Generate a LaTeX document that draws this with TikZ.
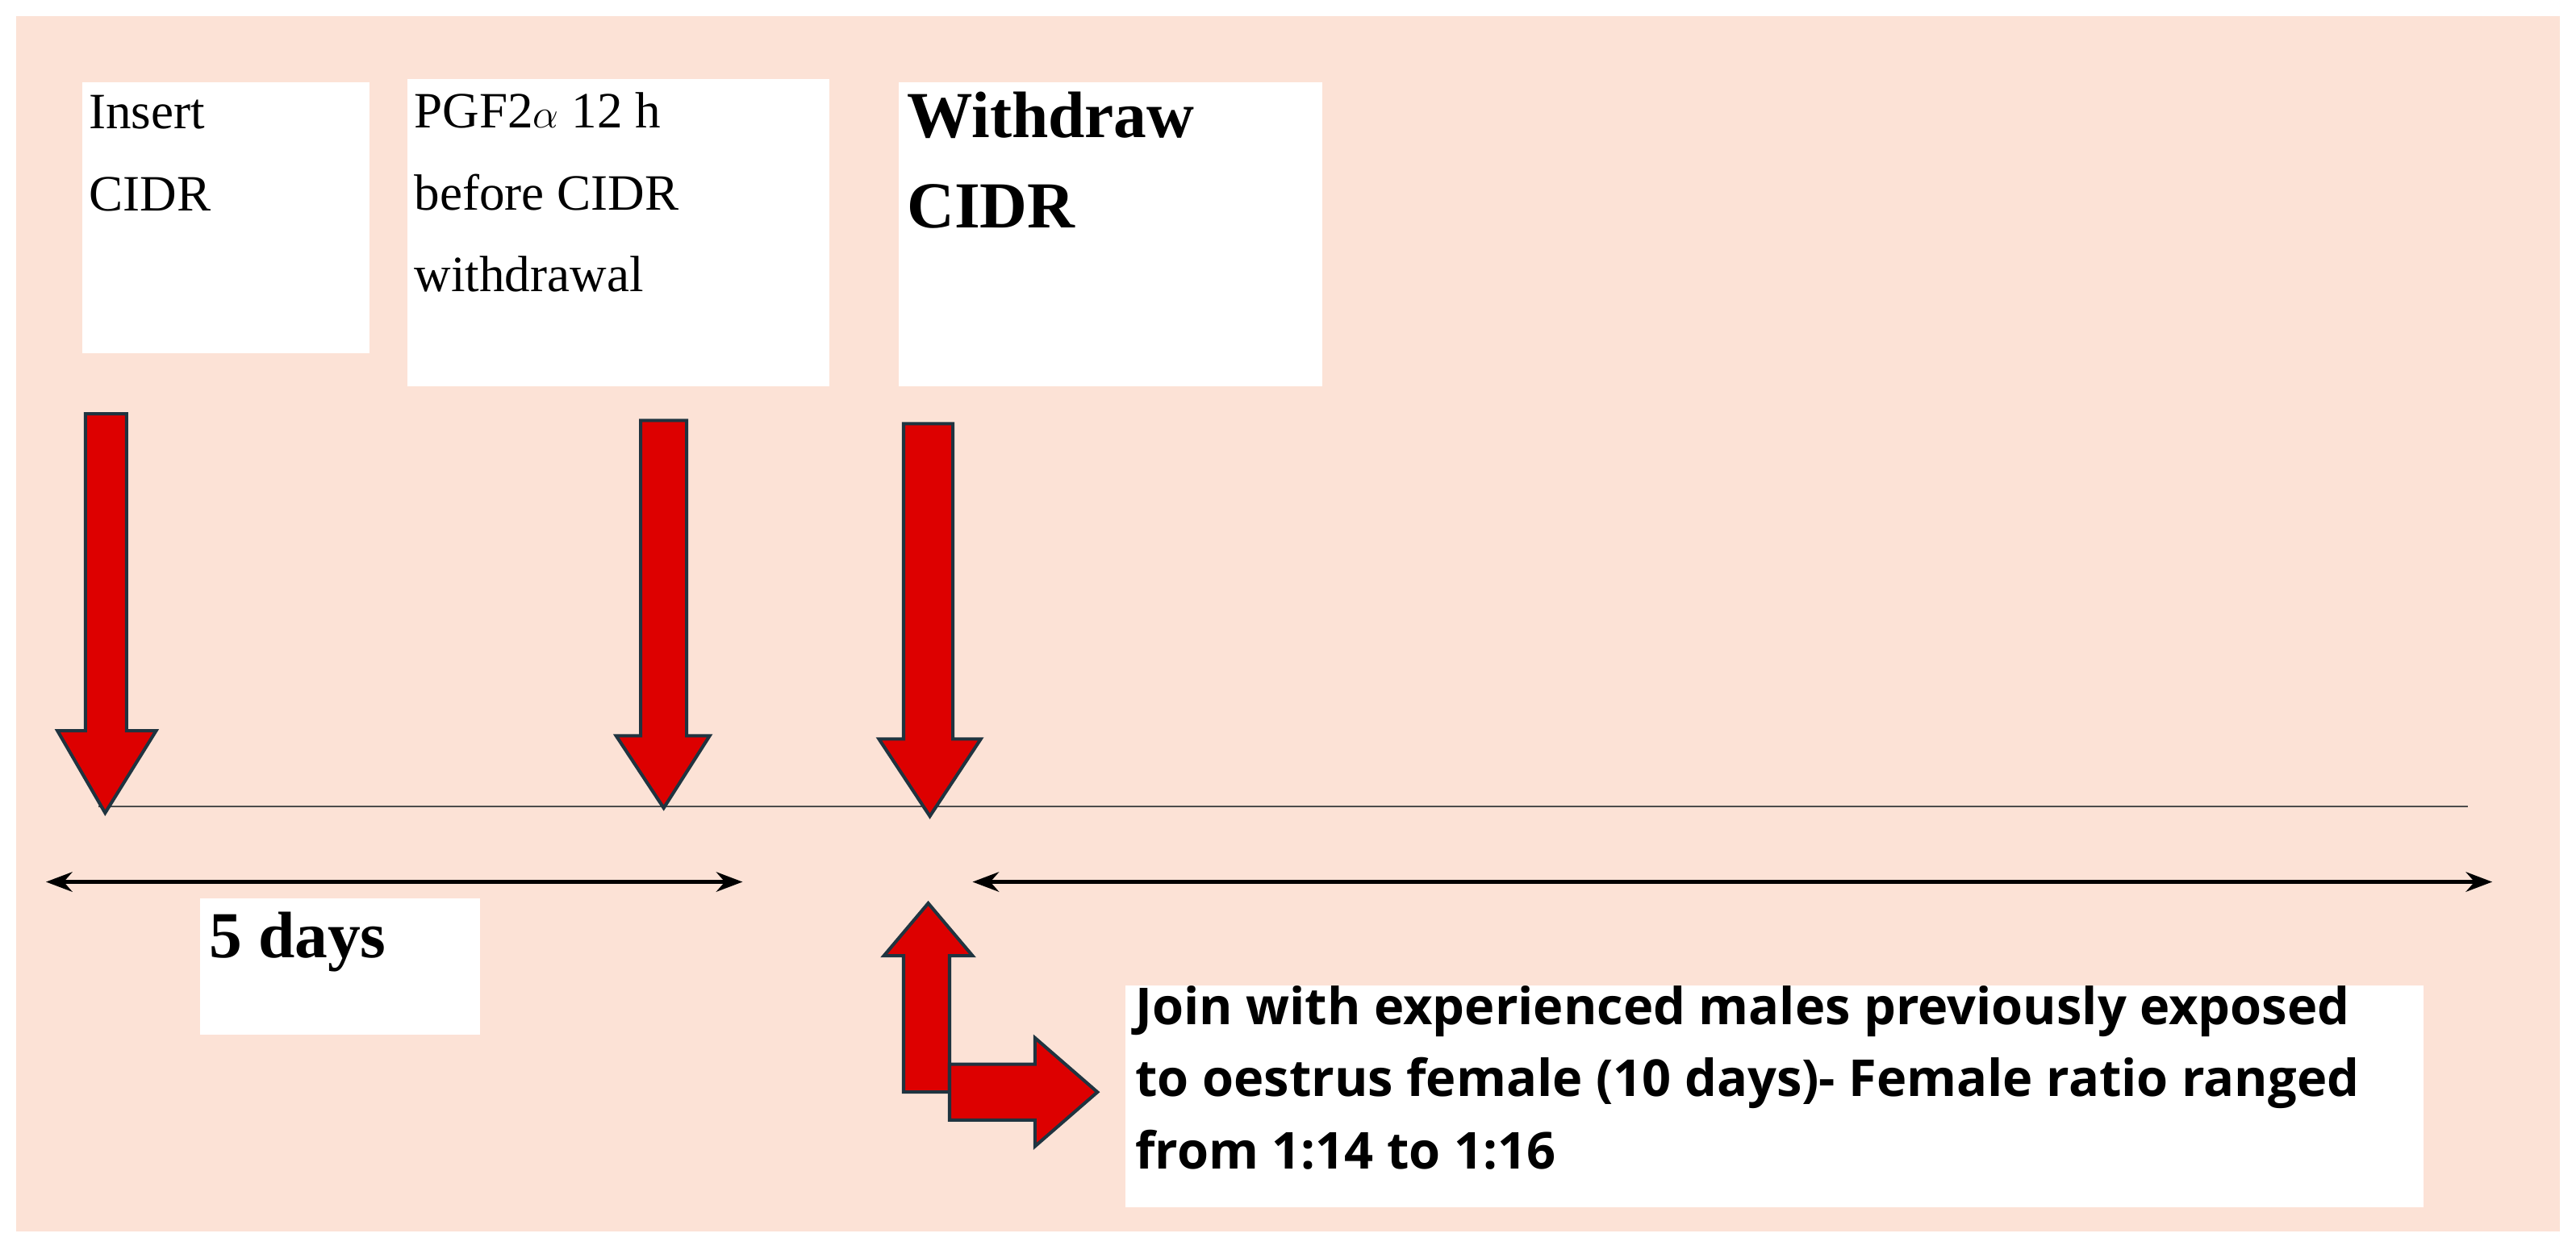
\documentclass[tikz,border=0pt]{standalone}
\usepackage{fontspec}
\usetikzlibrary{arrows.meta}
\setmainfont{Liberation Serif}
\setsansfont{Open Sans}
\begin{document}
\begin{tikzpicture}[x=1pt,y=-1pt,
  bx/.style={fill=white,draw=none},
  red arrow/.style={fill=arrowred,draw=outl,line width=2pt,line join=miter},
  dbl/.style={line width=2.2pt,<->,>={Stealth[length=16pt,width=12pt]}},
  lbl/.style={anchor=north west,align=left,inner sep=0pt}]
\definecolor{bg}{HTML}{FCE2D6}
\definecolor{arrowred}{HTML}{DD0000}
\definecolor{outl}{HTML}{1F3440}
\useasboundingbox (0,0) rectangle (1568,761);
\fill[white] (0,0) rectangle (1568,761);
\fill[bg] (10,10) rectangle (1558,750);
% boxes
\fill[white] (50,50) rectangle (225,215);
\fill[white] (248,48) rectangle (505,235);
\fill[white] (547,50) rectangle (805,235);
\fill[white] (122,547) rectangle (292,630);
\fill[white] (685,600) rectangle (1475,735);
\node[lbl,font=\fontsize{31}{50}\selectfont] (t1) at (54,58) {Insert\\CIDR};
\node[lbl,font=\fontsize{31}{50}\selectfont] (t2) at (252,56) {PGF2$\alpha$ 12 h\\before CIDR\\withdrawal};
\node[lbl,font=\fontsize{40}{55}\selectfont\bfseries] (t3) at (552,56) {Withdraw\\CIDR};
\node[lbl,font=\fontsize{40}{40}\selectfont\bfseries] (t4) at (127,555) {5 days};
\node[lbl,font=\fontsize{31}{44}\selectfont\sffamily\bfseries] (t5) at (691,600) {Join with experienced males previously exposed\\to oestrus female (10 days)- Female ratio ranged\\from 1:14 to 1:16};
% timeline
\coordinate (tl1) at (60,491); \coordinate (tl2) at (1502,491);
\draw[line width=1pt,black!70] (tl1) -- (tl2);
% down arrows
\draw[red arrow] (52,252) -- (77,252) -- (77,445) -- (95,445) -- (64,495) -- (35,445) -- (52,445) -- cycle;
\draw[red arrow] (390,256) -- (418,256) -- (418,448) -- (432,448) -- (404,492) -- (375,448) -- (390,448) -- cycle;
\draw[red arrow] (550,258) -- (580,258) -- (580,450) -- (597,450) -- (566,497) -- (535,450) -- (550,450) -- cycle;
% double arrows
\coordinate (d1a) at (28,537); \coordinate (d1b) at (452,537);
\coordinate (d2a) at (592,537); \coordinate (d2b) at (1517,537);
\draw[dbl] (d1a) -- (d1b);
\draw[dbl] (d2a) -- (d2b);
% up arrow and right arrow
\draw[red arrow] (550,665) -- (550,582) -- (538,582) -- (565,550) -- (592,582) -- (578,582) -- (578,665) -- cycle;
\draw[red arrow] (578,648) -- (630,648) -- (630,632) -- (668,665) -- (630,698) -- (630,682) -- (578,682) -- cycle;
\end{tikzpicture}
\end{document}
